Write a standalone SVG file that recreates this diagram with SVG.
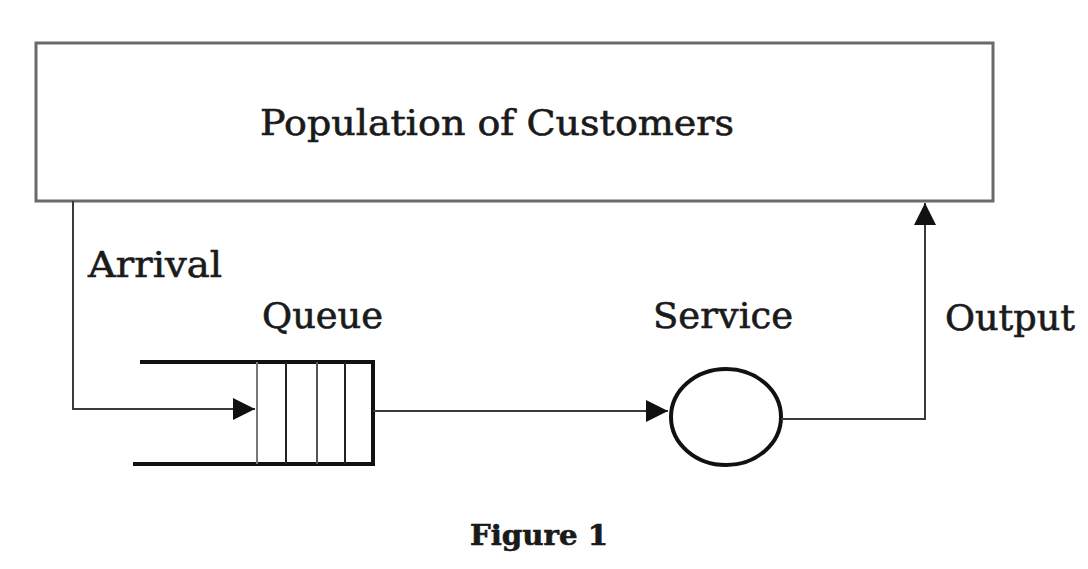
<svg xmlns="http://www.w3.org/2000/svg" width="1088" height="569" viewBox="0 0 1088 569">
  <style>
    .lbl { font-family: "DejaVu Serif", "Liberation Serif", serif; fill: #1a1a1a; stroke: #1a1a1a; stroke-width: 0.6; }
    .thin { fill: none; stroke: #3a3a3a; stroke-width: 2; }
    .thick { fill: none; stroke: #111; stroke-width: 4; }
  </style>
  <defs>
    <marker id="tri" viewBox="0 0 10 10" refX="10" refY="5" markerWidth="22" markerHeight="22" markerUnits="userSpaceOnUse" orient="auto">
      <path d="M0,0 L10,5 L0,10 Z" fill="#111"/>
    </marker>
  </defs>
  <rect width="1088" height="569" fill="#fff"/>

  <g id="population">
    <rect x="36" y="43" width="957" height="158" fill="#fff" stroke="#6a6a6a" stroke-width="3"/>
    <text class="lbl" x="497" y="135" font-size="36" text-anchor="middle" textLength="474" lengthAdjust="spacingAndGlyphs">Population of Customers</text>
  </g>

  <g id="queue">
    <path class="thick" d="M140,362 H373 V464 H133"/>
    <line x1="257" y1="362" x2="257" y2="464" stroke="#777" stroke-width="2"/>
    <line x1="286" y1="362" x2="286" y2="464" stroke="#222" stroke-width="2"/>
    <line x1="317" y1="362" x2="317" y2="464" stroke="#555" stroke-width="2"/>
    <line x1="345" y1="362" x2="345" y2="464" stroke="#222" stroke-width="2"/>
    <text class="lbl" x="262" y="328" font-size="35" textLength="121" lengthAdjust="spacingAndGlyphs">Queue</text>
  </g>

  <g id="service">
    <ellipse cx="726" cy="417" rx="55" ry="48" fill="#fff" stroke="#111" stroke-width="4"/>
    <text class="lbl" x="653" y="328" font-size="35" textLength="140" lengthAdjust="spacingAndGlyphs">Service</text>
  </g>

  <g id="connectors">
    <path class="thin" d="M73,201 V409 H255" marker-end="url(#tri)"/>
    <path class="thin" d="M373,411 H668" marker-end="url(#tri)"/>
    <path class="thin" d="M781,419 H925 V203" marker-end="url(#tri)"/>
  </g>

  <g id="labels">
    <text class="lbl" x="88" y="277" font-size="35" textLength="134" lengthAdjust="spacingAndGlyphs">Arrival</text>
    <text class="lbl" x="945" y="330" font-size="35" textLength="130" lengthAdjust="spacingAndGlyphs">Output</text>
    <text class="lbl" x="470" y="545" font-size="27" font-weight="bold" textLength="138" lengthAdjust="spacingAndGlyphs">Figure 1</text>
  </g>
</svg>
